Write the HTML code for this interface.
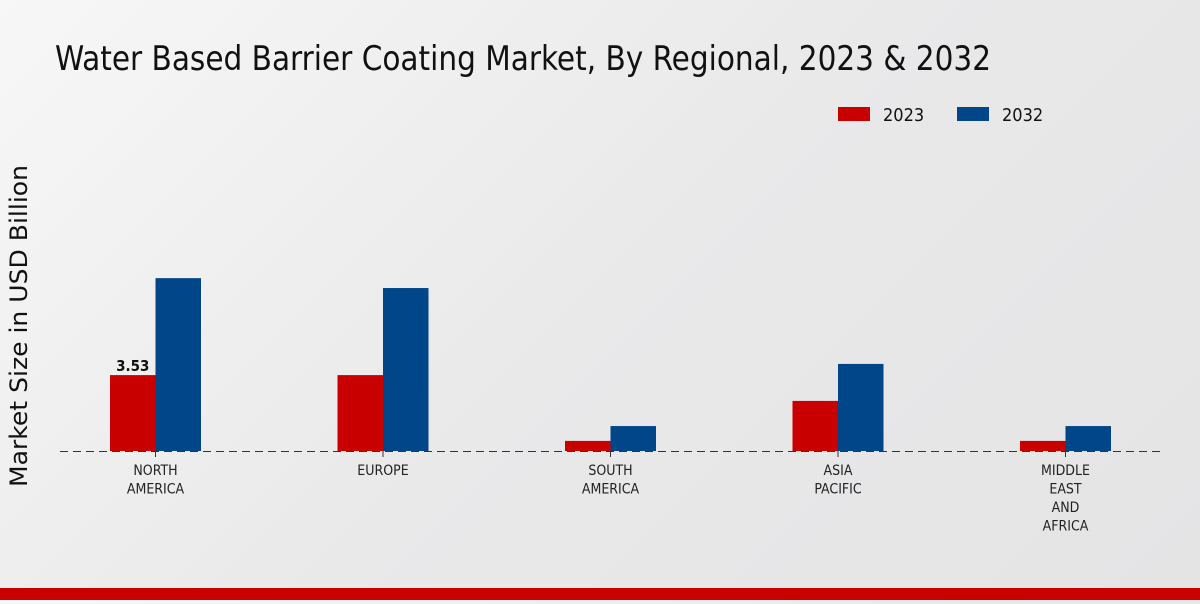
<!DOCTYPE html>
<html><head><meta charset="utf-8"><style>
html,body{margin:0;padding:0}
body{width:1200px;height:600px;overflow:hidden;background:linear-gradient(135deg,#f7f7f7 0%,#e9e9ea 50%,#e4e4e5 100%);font-family:"DejaVu Sans Condensed","DejaVu Sans","Liberation Sans",sans-serif}
</style></head><body>
<svg id="chart" width="1200" height="600" xmlns="http://www.w3.org/2000/svg">
<text x="55" y="70" textLength="936" lengthAdjust="spacingAndGlyphs" font-family="'Liberation Sans Narrow','DejaVu Sans Condensed',sans-serif" font-size="34" fill="#111">Water Based Barrier Coating Market, By Regional, 2023 &amp; 2032</text>
<g>
<rect x="838" y="107" width="32" height="14" fill="#c80000"/>
<text x="883" y="121" font-size="18" fill="#111">2023</text>
<rect x="957" y="107" width="32" height="14" fill="#004689"/>
<text x="1002" y="121" font-size="18" fill="#111">2032</text>
</g>
<text transform="translate(27,326) rotate(-90)" text-anchor="middle" textLength="322" lengthAdjust="spacingAndGlyphs" font-family="'DejaVu Sans',sans-serif" font-size="24" fill="#111">Market Size in USD Billion</text>
<g id="bars"></g>
<line x1="60" y1="451.5" x2="1160" y2="451.5" stroke="#333" stroke-width="1" stroke-dasharray="8,5"/>
<g id="labels"></g>
<rect x="0" y="588" width="1200" height="12" fill="#c80000"/>
</svg>
<script>
const categories = [["NORTH","AMERICA"],["EUROPE"],["SOUTH","AMERICA"],["ASIA","PACIFIC"],["MIDDLE","EAST","AND","AFRICA"]];
const values2023 = [3.53, 3.53, 0.47, 2.33, 0.47];
const values2032 = [8.04, 7.58, 1.16, 4.05, 1.16];
const shownLabels = ["3.53", null, null, null, null];
const NS="http://www.w3.org/2000/svg";
const baseY=451, pxPerUnit=21.5, x0=155.5, step=227.5, bw=45.5;
const yScale=v=>baseY-v*pxPerUnit;
const xCenter=i=>x0+i*step;
const bars=document.getElementById('bars'), labels=document.getElementById('labels');
function mk(t,a){const e=document.createElementNS(NS,t);for(const k in a)e.setAttribute(k,a[k]);return e;}
categories.forEach((c,i)=>{
  const cx=xCenter(i);
  const r=mk('rect',{x:cx-bw,y:yScale(values2023[i]),width:bw,height:baseY-yScale(values2023[i]),fill:'#c80000'});
  
  
  bars.appendChild(r);
  const b=mk('rect',{x:cx,y:yScale(values2032[i]),width:bw,height:baseY-yScale(values2032[i]),fill:'#004689'});
  
  
  bars.appendChild(b);
  if(shownLabels[i]){
    const t=mk('text',{x:cx-bw/2,y:yScale(values2023[i])-4,'text-anchor':'middle','font-size':'15','font-weight':'bold',fill:'#111'});
    t.textContent=shownLabels[i];
    
    
    bars.appendChild(t);
  }
  const tk=mk('line',{x1:cx,y1:baseY,x2:cx,y2:baseY+6,stroke:'#333'});
  
  
  labels.appendChild(tk);
  const t=mk('text',{'text-anchor':'middle','font-size':'14',fill:'#222'});
  
  
  c.forEach((line,j)=>{const s=mk('tspan',{x:cx,y:475+j*18.5});s.textContent=line;t.appendChild(s);});
  labels.appendChild(t);
});
</script>
</body></html>
